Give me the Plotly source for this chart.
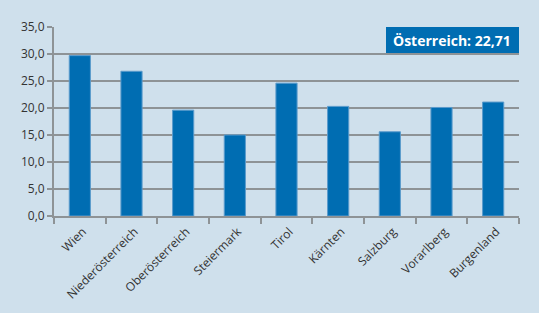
import plotly.graph_objects as go

categories = ["Wien", "Niederösterreich", "Oberösterreich", "Steiermark", "Tirol",
              "Kärnten", "Salzburg", "Vorarlberg", "Burgenland"]
values = [29.7, 26.8, 19.6, 15.0, 24.6, 20.3, 15.6, 20.1, 21.1]
y_ticks = [0, 5, 10, 15, 20, 25, 30, 35]
note_text = "Österreich: 22,71"

bg = "#cfe0ec"
grid = "#8e9396"
font_family = "Open Sans, Noto Sans, sans-serif"

fig = go.Figure(go.Bar(
    x=categories, y=values,
    marker=dict(color="#006db2", line=dict(color="#5b9bcc", width=1)),
    width=0.41,
))

fig.update_layout(
    width=539, height=313,
    paper_bgcolor=bg, plot_bgcolor=bg,
    margin=dict(l=54, r=20, t=27, b=97),
    separators=",.",
    showlegend=False,
    font=dict(family=font_family, color="#333333"),
)
fig.update_yaxes(
    range=[0, 35], tickvals=y_ticks, tickformat=".1f",
    showgrid=True, gridcolor=grid, gridwidth=2,
    showline=True, linecolor=grid, linewidth=2,
    ticks="outside", ticklen=5, tickcolor=grid, tickwidth=2,
    tickfont=dict(size=12, color="#333333"),
    zeroline=False, fixedrange=True,
)
fig.update_xaxes(
    tickangle=-45, tickson="boundaries",
    showline=True, linecolor=grid, linewidth=2,
    ticks="outside", ticklen=6, tickcolor=grid, tickwidth=2,
    tickfont=dict(size=12, color="#333333"),
    ticklabelstandoff=2, ticklabelshift=3,
    showgrid=False, fixedrange=True,
)
fig.add_shape(type="rect", xref="paper", yref="paper",
              x0=(386 - 54) / 465, x1=1.0, y0=(216 - 53) / 189, y1=1.0,
              fillcolor="#006db2", line=dict(width=0), layer="above")
fig.add_annotation(xref="paper", yref="paper", x=(452 - 54) / 465,
                   y=(216 - 40) / 189, text="<b>" + note_text + "</b>",
                   showarrow=False, font=dict(size=14, color="white", family=font_family),
                   xanchor="center", yanchor="middle")

fig.write_html("out.html", config={"displayModeBar": False},
               post_script="document.body.style.margin='0';document.body.style.padding='0';")
